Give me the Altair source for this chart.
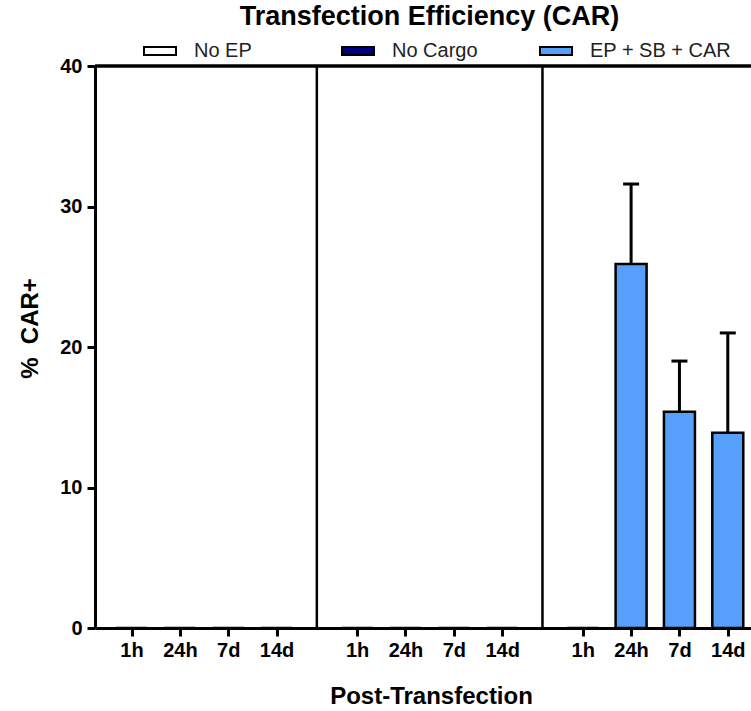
import altair as alt
import pandas as pd

# ---- data ----
groups = ["No EP", "No Cargo", "EP + SB + CAR"]
times = ["1h", "24h", "7d", "14d"]
no_ep_mean = [0, 0, 0, 0]
no_ep_sd = [0, 0, 0, 0]
no_cargo_mean = [0, 0, 0, 0]
no_cargo_sd = [0, 0, 0, 0]
car_mean = [0, 25.9, 15.4, 13.9]
car_sd = [0, 5.7, 3.6, 7.1]
colors = ["#FFFFFF", "#000080", "#56A0FB"]
chart_title = "Transfection Efficiency (CAR)"

# ---- layout helpers (slot units) ----
GAP = 0.6667
PERIOD = len(times) + GAP
X_MIN, X_MAX = -0.652, 12.71

means = [no_ep_mean, no_cargo_mean, car_mean]
sds = [no_ep_sd, no_cargo_sd, car_sd]
rows = []
for g, grp in enumerate(groups):
    for t, tm in enumerate(times):
        rows.append({
            "group": grp,
            "time": tm,
            "pos": g * PERIOD + t,
            "mean": means[g][t],
            "sd": sds[g][t],
            "top": means[g][t] + sds[g][t],
        })
df = pd.DataFrame(rows)
err_df = df[df["sd"] > 0]
tick_values = [r["pos"] for r in rows]
sep_df = pd.DataFrame({"sep": [(g + 1) * PERIOD - GAP / 2 - 0.5 for g in range(len(groups) - 1)]})

label_array = "[" + ",".join("'%s'" % t for t in times) + "]"
label_expr = (
    f"{label_array}[round(datum.value - floor((datum.value + 0.5) / {PERIOD}) * {PERIOD})]"
)

FONT = "Liberation Sans"

xscale = alt.Scale(domain=[X_MIN, X_MAX], nice=False, zero=False)
yscale = alt.Scale(domain=[0, 40], nice=False)

x_axis = alt.Axis(
    values=tick_values,
    labelExpr=label_expr,
    title="Post-Transfection",
    titleFont=FONT,
    titleFontSize=24,
    titleFontWeight="bold",
    titleColor="black",
    titleX=336,
    titleY=75,
    titleBaseline="alphabetic",
    labelFont=FONT,
    labelFontSize=20,
    labelFontWeight="bold",
    labelColor="black",
    labelPadding=4,
    labelOverlap=False,
    labelFlush=False,
    tickSize=8,
    tickWidth=3,
    tickColor="black",
    domainColor="black",
    domainWidth=3,
    grid=False,
)
y_axis = alt.Axis(
    values=[0, 10, 20, 30, 40],
    title="%\u00a0\u00a0CAR+",
    titleFont=FONT,
    titleFontSize=24,
    titleFontWeight="bold",
    titleColor="black",
    titleAngle=-90,
    titleAlign="center",
    titleBaseline="middle",
    titleX=-65,
    titleY=262,
    labelFont=FONT,
    labelFontSize=20,
    labelFontWeight="bold",
    labelColor="black",
    labelPadding=5,
    tickSize=8,
    tickWidth=3,
    tickColor="black",
    domainColor="black",
    domainWidth=3,
    grid=False,
)

base = alt.Chart(df)

bars = base.mark_bar(size=31, stroke="black", strokeWidth=2.5).encode(
    x=alt.X("pos:Q", scale=xscale, axis=x_axis),
    y=alt.Y("mean:Q", scale=yscale, axis=y_axis),
    fill=alt.Fill(
        "group:N",
        scale=alt.Scale(domain=groups, range=colors),
        sort=groups,
        legend=alt.Legend(
            title=None,
            orient="none",
            legendX=48,
            legendY=-32,
            direction="horizontal",
            columns=3,
            gridAlign="all",
            columnPadding=2,
            symbolType="M-1,-0.25H1V0.25H-1Z",
            symbolSize=1024,
            symbolStrokeColor="black",
            symbolStrokeWidth=2,
            symbolOpacity=1,
            labelFont=FONT,
            labelFontSize=20,
            labelColor="#222222",
            labelOffset=17,
        ),
    ),
)

err_line = alt.Chart(err_df).mark_rule(color="black", strokeWidth=3).encode(
    x=alt.X("pos:Q", scale=xscale),
    y=alt.Y("mean:Q", scale=yscale),
    y2="top:Q",
)
err_cap = alt.Chart(err_df).mark_rule(
    color="black", strokeWidth=3, xOffset=-8, x2Offset=8
).encode(
    x=alt.X("pos:Q", scale=xscale),
    x2="pos:Q",
    y=alt.Y("top:Q", scale=yscale),
)

seps = alt.Chart(sep_df).mark_rule(color="black", strokeWidth=2.5).encode(
    x=alt.X("sep:Q", scale=xscale),
    y=alt.datum(0, scale=yscale),
    y2=alt.datum(40),
)

top_line = alt.Chart(sep_df).mark_rule(color="black", strokeWidth=3).encode(
    x=alt.value(0),
    x2=alt.value(656),
    y=alt.value(0),
)

title_text = alt.Chart(pd.DataFrame({"t": [chart_title]})).mark_text(
    font=FONT,
    fontSize=27,
    fontWeight="bold",
    color="black",
    align="center",
    baseline="alphabetic",
).encode(
    x=alt.value(334.5),
    y=alt.value(-41),
    text="t:N",
)

chart = (
    alt.layer(bars, err_line, err_cap, seps, top_line, title_text)
    .properties(
        width=656,
        height=562,
        autosize=alt.AutoSizeParams(type="none"),
        padding={"left": 95, "top": 66, "right": 0, "bottom": 83},
    )
    .configure_view(stroke=None)
    .configure(background="white")
)

chart.save("out.html", embed_options={"renderer": "svg", "actions": False})
